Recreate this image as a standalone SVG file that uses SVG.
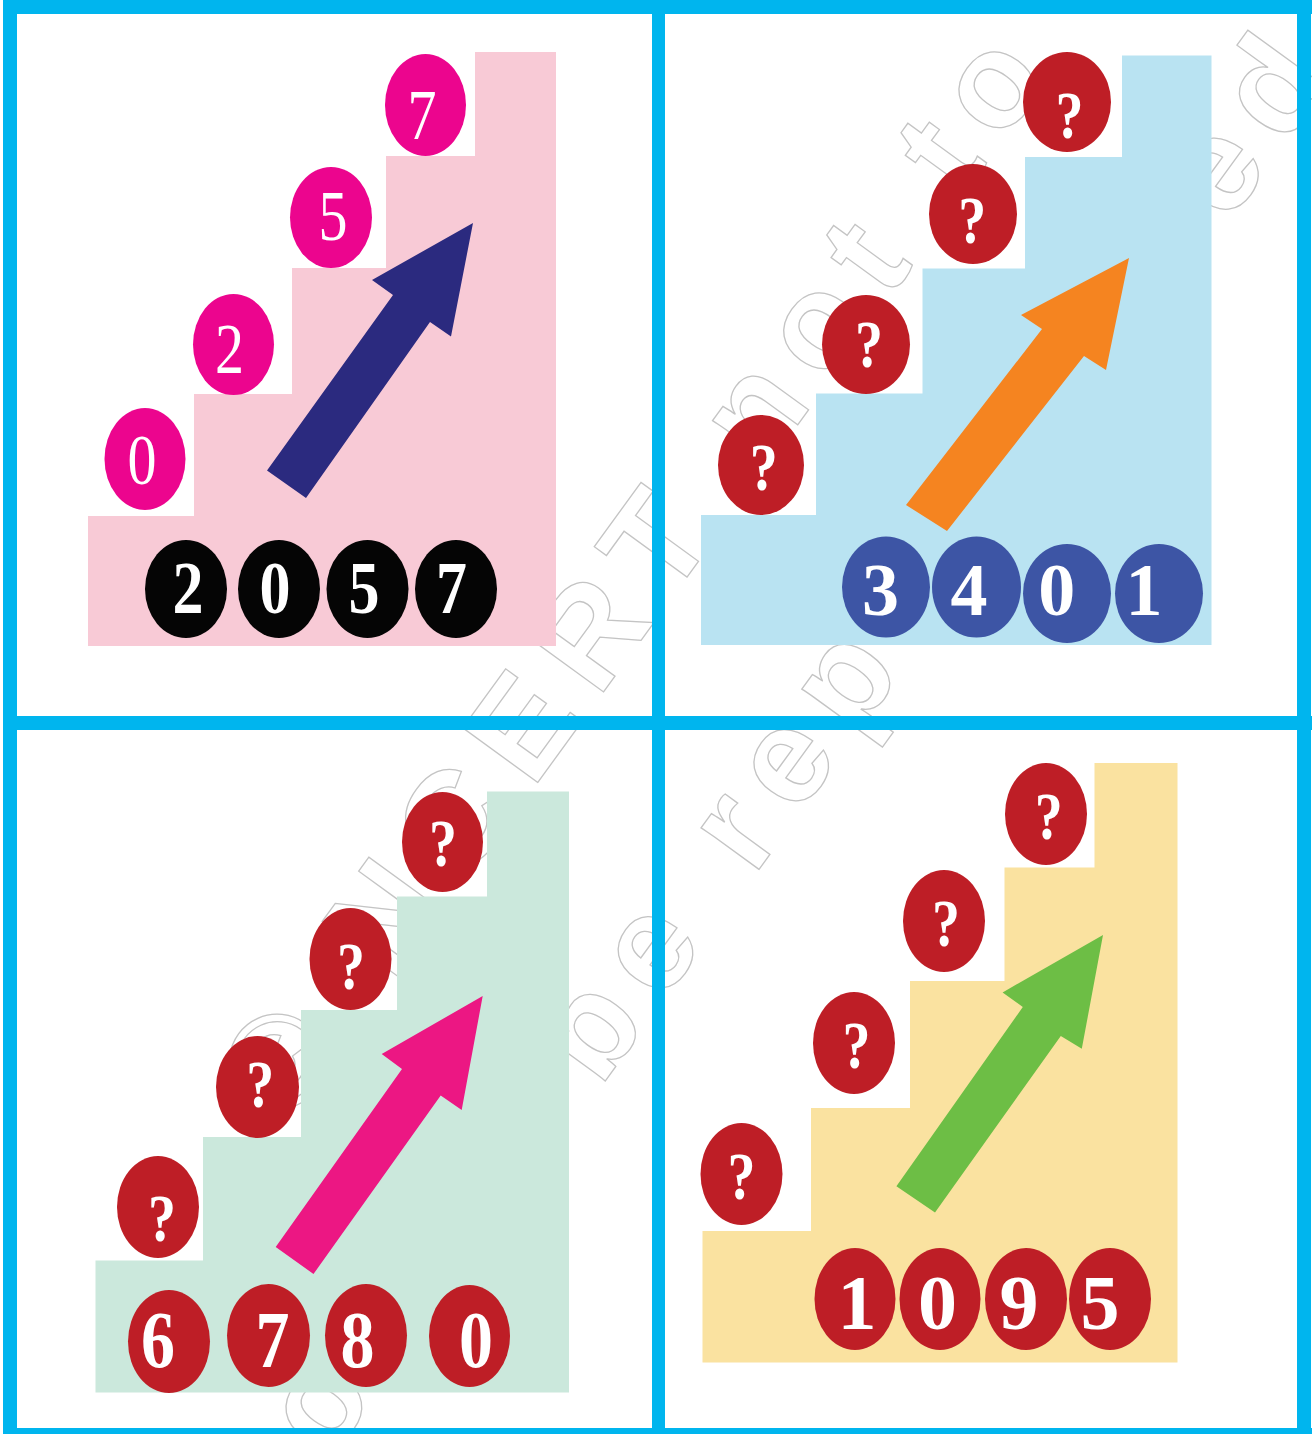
<svg xmlns="http://www.w3.org/2000/svg" width="1312" height="1434" viewBox="0 0 1312 1434">
<style>
.wm{font-family:"Liberation Sans",Arial,sans-serif;font-weight:bold;font-size:135px;letter-spacing:22px;fill:none;stroke:#c4c4c4;stroke-width:1.3}
.d{font-family:"Liberation Serif","Times New Roman",serif;fill:#fff;text-anchor:middle}
.reg{font-size:72px;font-weight:normal}
.b74{font-size:74px;font-weight:bold}
.b80{font-size:80px;font-weight:bold}
.b78{font-size:78px;font-weight:bold}
.q{font-size:68px;font-weight:bold}
.border{fill:#00b5ee}
.red{fill:#be1e26}
</style>
<rect x="0" y="0" width="1312" height="1434" fill="#fff"/>
<g id="watermark" transform="rotate(-54)">
<text class="wm" x="-746" y="895">© NCERT not to be republished</text>
<text class="wm" x="-1094" y="1125">not to be republished</text>
</g>

<g id="panel1">
<polygon id="stair1" fill="#f8cad6" points="88,646 88,516 194,516 194,394 292,394 292,268 386,268 386,156 475,156 475,52 556,52 556,646"/>
<polygon id="arrow1" fill="#2b2a7f" points="267,470.5 393,295 372,280 473,223 451,336.5 430,322 306,498"/>
<g id="p1-step0"><ellipse cx="145" cy="459" rx="40.5" ry="51" fill="#ec058e"/><text class="d reg" x="142" y="484" textLength="29" lengthAdjust="spacingAndGlyphs">0</text></g>
<g id="p1-step2"><ellipse cx="233.5" cy="344.5" rx="40.5" ry="50.5" fill="#ec058e"/><text class="d reg" x="229.5" y="373" textLength="29" lengthAdjust="spacingAndGlyphs">2</text></g>
<g id="p1-step5"><ellipse cx="331" cy="217.5" rx="41" ry="50.5" fill="#ec058e"/><text class="d reg" x="333" y="240" textLength="29" lengthAdjust="spacingAndGlyphs">5</text></g>
<g id="p1-step7"><ellipse cx="425.5" cy="105" rx="40.5" ry="51" fill="#ec058e"/><text class="d reg" x="422" y="139" textLength="29" lengthAdjust="spacingAndGlyphs">7</text></g>
<g id="p1-num2"><ellipse cx="186" cy="589" rx="41" ry="49" fill="#050505"/><text class="d b74" x="188" y="613" textLength="31" lengthAdjust="spacingAndGlyphs">2</text></g>
<g id="p1-num0"><ellipse cx="279" cy="589" rx="41" ry="49" fill="#050505"/><text class="d b74" x="275" y="613" textLength="31" lengthAdjust="spacingAndGlyphs">0</text></g>
<g id="p1-num5"><ellipse cx="367.5" cy="589" rx="41" ry="49" fill="#050505"/><text class="d b74" x="364" y="613" textLength="31" lengthAdjust="spacingAndGlyphs">5</text></g>
<g id="p1-num7"><ellipse cx="456" cy="589" rx="41" ry="49" fill="#050505"/><text class="d b74" x="451.5" y="613" textLength="31" lengthAdjust="spacingAndGlyphs">7</text></g>
</g>

<g id="panel2">
<polygon id="stair2" fill="#b9e3f2" points="701,645 701,515 816,515 816,393.5 922.5,393.5 922.5,268.5 1025,268.5 1025,157 1122,157 1122,55.5 1211.5,55.5 1211.5,645"/>
<polygon id="arrow2" fill="#f58420" points="906,505 1042,329 1021,315 1129,258 1106,370 1084,356 947,531"/>
<g id="p2-q1"><ellipse class="red" cx="761" cy="465" rx="43" ry="50"/><text class="d q" x="763.7" y="490" textLength="28" lengthAdjust="spacingAndGlyphs">?</text></g>
<g id="p2-q2"><ellipse class="red" cx="866" cy="344.5" rx="44" ry="49.5"/><text class="d q" x="869" y="367" textLength="28" lengthAdjust="spacingAndGlyphs">?</text></g>
<g id="p2-q3"><ellipse class="red" cx="973" cy="214" rx="44" ry="50"/><text class="d q" x="972.3" y="243" textLength="28" lengthAdjust="spacingAndGlyphs">?</text></g>
<g id="p2-q4"><ellipse class="red" cx="1067" cy="102" rx="44" ry="50"/><text class="d q" x="1069.6" y="138" textLength="28" lengthAdjust="spacingAndGlyphs">?</text></g>
<g id="p2-num3"><ellipse cx="886" cy="587" rx="44" ry="50.5" fill="#3d55a5"/><text class="d b74" x="880.5" y="615">3</text></g>
<g id="p2-num4"><ellipse cx="976.5" cy="587" rx="44.5" ry="50.5" fill="#3d55a5"/><text class="d b74" x="969" y="615">4</text></g>
<g id="p2-num0"><ellipse cx="1067" cy="593.5" rx="44" ry="49.5" fill="#3d55a5"/><text class="d b74" x="1056.7" y="615">0</text></g>
<g id="p2-num1"><ellipse cx="1159" cy="593.5" rx="44" ry="49.5" fill="#3d55a5"/><text class="d b74" x="1144" y="615">1</text></g>
</g>

<g id="panel3">
<polygon id="stair3" fill="#cbe8dc" points="95.5,1392.5 95.5,1260.5 203,1260.5 203,1137 301,1137 301,1010 397,1010 397,896.5 487,896.5 487,791.5 569,791.5 569,1392.5"/>
<polygon id="arrow3" fill="#ec1783" points="275.7,1247 402,1069 381.7,1054 482.7,996 461.7,1110 440.7,1095.6 313.5,1274"/>
<g id="p3-q1"><ellipse class="red" cx="158" cy="1207" rx="41" ry="51"/><text class="d q" x="162" y="1241" textLength="28" lengthAdjust="spacingAndGlyphs">?</text></g>
<g id="p3-q2"><ellipse class="red" cx="257.5" cy="1087" rx="41.5" ry="51"/><text class="d q" x="260.3" y="1107" textLength="28" lengthAdjust="spacingAndGlyphs">?</text></g>
<g id="p3-q3"><ellipse class="red" cx="350.5" cy="959" rx="41" ry="51"/><text class="d q" x="351" y="989" textLength="28" lengthAdjust="spacingAndGlyphs">?</text></g>
<g id="p3-q4"><ellipse class="red" cx="442.5" cy="842" rx="40.5" ry="50"/><text class="d q" x="443" y="866" textLength="28" lengthAdjust="spacingAndGlyphs">?</text></g>
<g id="p3-num6"><ellipse class="red" cx="169" cy="1341.5" rx="41" ry="51.5"/><text class="d b80" x="158" y="1367" textLength="34" lengthAdjust="spacingAndGlyphs">6</text></g>
<g id="p3-num7"><ellipse class="red" cx="268.5" cy="1335.5" rx="41.5" ry="51.5"/><text class="d b80" x="272.5" y="1367" textLength="34" lengthAdjust="spacingAndGlyphs">7</text></g>
<g id="p3-num8"><ellipse class="red" cx="366" cy="1335.5" rx="41" ry="51.5"/><text class="d b80" x="357.5" y="1367" textLength="34" lengthAdjust="spacingAndGlyphs">8</text></g>
<g id="p3-num0"><ellipse class="red" cx="469.5" cy="1336" rx="40.5" ry="51"/><text class="d b80" x="476" y="1367" textLength="34" lengthAdjust="spacingAndGlyphs">0</text></g>
</g>

<g id="panel4">
<polygon id="stair4" fill="#fae2a0" points="702.5,1362.5 702.5,1231 811,1231 811,1108 910,1108 910,981 1004.5,981 1004.5,867.5 1094.5,867.5 1094.5,763 1177.5,763 1177.5,1362.5"/>
<polygon id="arrow4" fill="#6dbe45" points="896.4,1186.3 1022.8,1007 1002.6,992.4 1103,935 1081.8,1048.8 1060.8,1036 935,1212.5"/>
<g id="p4-q1"><ellipse class="red" cx="741.5" cy="1174" rx="41" ry="51"/><text class="d q" x="741.6" y="1199" textLength="28" lengthAdjust="spacingAndGlyphs">?</text></g>
<g id="p4-q2"><ellipse class="red" cx="854" cy="1043" rx="41" ry="51"/><text class="d q" x="856.6" y="1068" textLength="28" lengthAdjust="spacingAndGlyphs">?</text></g>
<g id="p4-q3"><ellipse class="red" cx="944" cy="921" rx="41" ry="51"/><text class="d q" x="946" y="946" textLength="28" lengthAdjust="spacingAndGlyphs">?</text></g>
<g id="p4-q4"><ellipse class="red" cx="1046" cy="814" rx="41" ry="51"/><text class="d q" x="1048.8" y="839" textLength="28" lengthAdjust="spacingAndGlyphs">?</text></g>
<g id="p4-num1"><ellipse class="red" cx="855" cy="1299" rx="40.5" ry="51"/><text class="d b78" x="857" y="1329">1</text></g>
<g id="p4-num0"><ellipse class="red" cx="940" cy="1299" rx="40.5" ry="51"/><text class="d b78" x="937.5" y="1329">0</text></g>
<g id="p4-num9"><ellipse class="red" cx="1026" cy="1299" rx="41" ry="51"/><text class="d b78" x="1019" y="1329">9</text></g>
<g id="p4-num5"><ellipse class="red" cx="1110" cy="1299" rx="41" ry="51"/><text class="d b78" x="1100" y="1329">5</text></g>
</g>

<g id="borders">
<rect class="border" x="3" y="0" width="1309" height="14"/>
<rect class="border" x="3" y="1428" width="1309" height="6"/>
<rect class="border" x="3" y="0" width="14" height="1434"/>
<rect class="border" x="1297" y="0" width="14" height="1434"/>
<rect class="border" x="652" y="0" width="13" height="1434"/>
<rect class="border" x="3" y="716" width="1309" height="14"/>
</g>
</svg>
